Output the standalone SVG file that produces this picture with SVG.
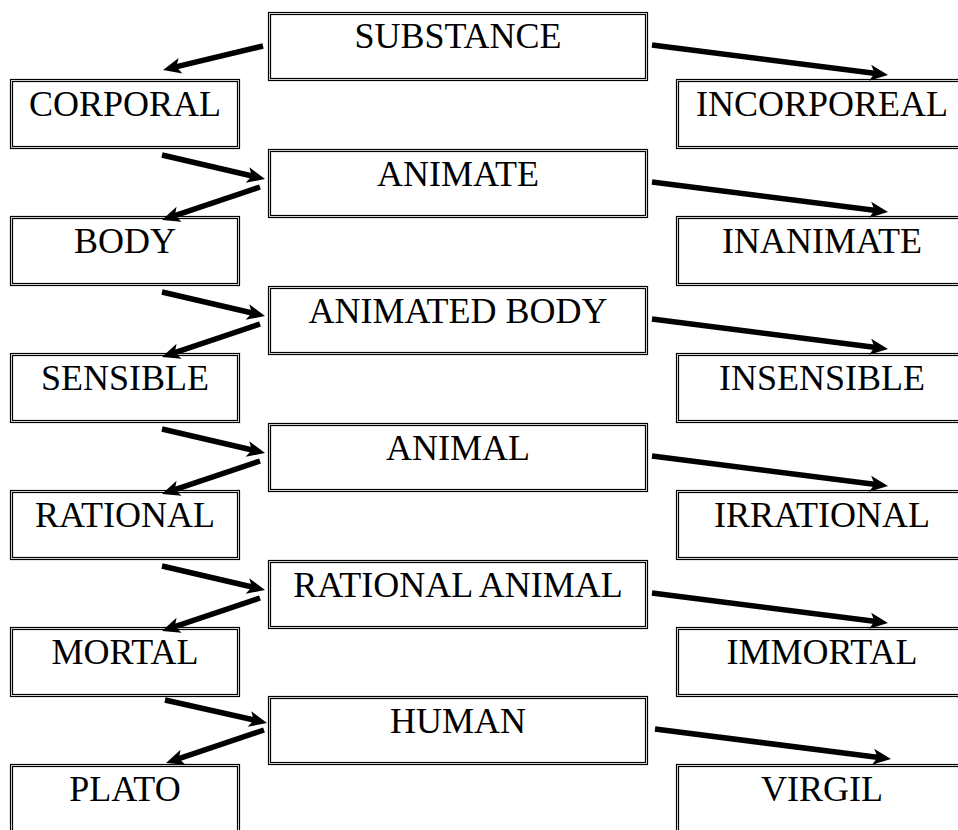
<svg xmlns="http://www.w3.org/2000/svg" width="958" height="830" viewBox="0 0 958 830">
<style>
.o{fill:#fff;stroke:#000;stroke-width:1.2}
.i{fill:none;stroke:#000;stroke-width:1.2}
.t{font-family:"Liberation Serif","Times New Roman",serif;font-size:36px;fill:#000;text-anchor:middle}
.c line{stroke:#000;stroke-width:5.5;marker-end:url(#ah)}
</style>
<defs>
<marker id="ah" markerUnits="userSpaceOnUse" viewBox="-7 -9 21 18" refX="0" refY="0" markerWidth="21" markerHeight="18" orient="auto" overflow="visible">
<path d="M-6,-8 L12,0 L-6,8 L-1.5,0 Z" fill="#000"/>
</marker>
</defs>
<rect width="958" height="830" fill="#fff"/>

<g id="n-substance"><rect class="o" x="268.5" y="12.5" width="379" height="68"/><rect class="i" x="270.5" y="14.5" width="375" height="64"/><text class="t" x="458" y="48">SUBSTANCE</text></g>
<g id="n-animate"><rect class="o" x="268.5" y="149.5" width="379" height="68"/><rect class="i" x="270.5" y="151.5" width="375" height="64"/><text class="t" x="458" y="186">ANIMATE</text></g>
<g id="n-animated-body"><rect class="o" x="268.5" y="286.5" width="379" height="68"/><rect class="i" x="270.5" y="288.5" width="375" height="64"/><text class="t" x="458" y="323">ANIMATED BODY</text></g>
<g id="n-animal"><rect class="o" x="268.5" y="423.5" width="379" height="68"/><rect class="i" x="270.5" y="425.5" width="375" height="64"/><text class="t" x="458" y="460">ANIMAL</text></g>
<g id="n-rational-animal"><rect class="o" x="268.5" y="560.5" width="379" height="68"/><rect class="i" x="270.5" y="562.5" width="375" height="64"/><text class="t" x="458" y="597">RATIONAL ANIMAL</text></g>
<g id="n-human"><rect class="o" x="268.5" y="696.5" width="379" height="68"/><rect class="i" x="270.5" y="698.5" width="375" height="64"/><text class="t" x="458" y="733">HUMAN</text></g>

<g id="n-corporal"><rect class="o" x="10.5" y="79.5" width="229" height="69"/><rect class="i" x="12.5" y="81.5" width="225" height="65"/><text class="t" x="125" y="116">CORPORAL</text></g>
<g id="n-body"><rect class="o" x="10.5" y="216.5" width="229" height="69"/><rect class="i" x="12.5" y="218.5" width="225" height="65"/><text class="t" x="125" y="253">BODY</text></g>
<g id="n-sensible"><rect class="o" x="10.5" y="353.5" width="229" height="69"/><rect class="i" x="12.5" y="355.5" width="225" height="65"/><text class="t" x="125" y="390">SENSIBLE</text></g>
<g id="n-rational"><rect class="o" x="10.5" y="490.5" width="229" height="69"/><rect class="i" x="12.5" y="492.5" width="225" height="65"/><text class="t" x="125" y="527">RATIONAL</text></g>
<g id="n-mortal"><rect class="o" x="10.5" y="627.5" width="229" height="69"/><rect class="i" x="12.5" y="629.5" width="225" height="65"/><text class="t" x="125" y="664">MORTAL</text></g>
<g id="n-plato"><rect class="o" x="10.5" y="764.5" width="229" height="100"/><rect class="i" x="12.5" y="766.5" width="225" height="100"/><text class="t" x="125" y="801">PLATO</text></g>

<g id="n-incorporeal"><rect class="o" x="676.5" y="79.5" width="291" height="69"/><rect class="i" x="678.5" y="81.5" width="287" height="65"/><text class="t" x="822" y="116">INCORPOREAL</text></g>
<g id="n-inanimate"><rect class="o" x="676.5" y="216.5" width="291" height="69"/><rect class="i" x="678.5" y="218.5" width="287" height="65"/><text class="t" x="822" y="253">INANIMATE</text></g>
<g id="n-insensible"><rect class="o" x="676.5" y="353.5" width="291" height="69"/><rect class="i" x="678.5" y="355.5" width="287" height="65"/><text class="t" x="822" y="390">INSENSIBLE</text></g>
<g id="n-irrational"><rect class="o" x="676.5" y="490.5" width="291" height="69"/><rect class="i" x="678.5" y="492.5" width="287" height="65"/><text class="t" x="822" y="527">IRRATIONAL</text></g>
<g id="n-immortal"><rect class="o" x="676.5" y="627.5" width="291" height="69"/><rect class="i" x="678.5" y="629.5" width="287" height="65"/><text class="t" x="822" y="664">IMMORTAL</text></g>
<g id="n-virgil"><rect class="o" x="676.5" y="764.5" width="291" height="100"/><rect class="i" x="678.5" y="766.5" width="287" height="100"/><text class="t" x="822" y="801">VIRGIL</text></g>

<g id="connectors" class="c">
<line x1="263" y1="46" x2="174.7" y2="67.2"/>
<line x1="652" y1="45" x2="876.1" y2="73.5"/>

<line x1="162" y1="155" x2="253.3" y2="176.3"/>
<line x1="260" y1="187" x2="173.4" y2="216.2"/>
<line x1="652" y1="182" x2="876.1" y2="210.5"/>

<line x1="162" y1="292" x2="253.3" y2="313.3"/>
<line x1="260" y1="324" x2="173.4" y2="353.2"/>
<line x1="652" y1="319" x2="876.1" y2="347.5"/>

<line x1="162" y1="429" x2="253.3" y2="450.3"/>
<line x1="260" y1="461" x2="173.4" y2="490.2"/>
<line x1="652" y1="456" x2="876.1" y2="484.5"/>

<line x1="162" y1="566" x2="253.3" y2="587.3"/>
<line x1="260" y1="598" x2="173.4" y2="627.2"/>
<line x1="652" y1="593" x2="876.1" y2="621.5"/>

<line x1="165" y1="700" x2="255.3" y2="720.3"/>
<line x1="264" y1="730" x2="177.4" y2="759.2"/>
<line x1="655" y1="729" x2="879.1" y2="757.5"/>
</g>
</svg>
